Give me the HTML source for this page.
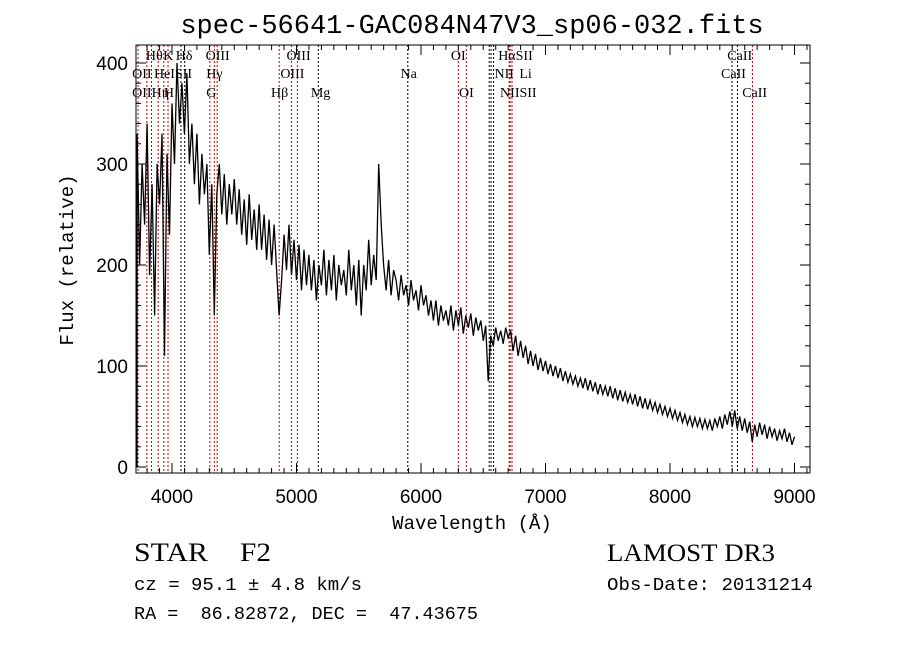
<!DOCTYPE html>
<html><head><meta charset="utf-8"><style>
html,body{margin:0;padding:0;background:#fff;}
svg{display:block;}
text{white-space:pre;}
</style></head><body>
<svg id="chart" width="900" height="649" viewBox="0 0 900 649" xmlns="http://www.w3.org/2000/svg">
<rect width="900" height="649" fill="#fff"/>
<text x="472" y="33" text-anchor="middle" font-family="Liberation Mono, monospace" font-size="27" fill="#000">spec-56641-GAC084N47V3_sp06-032.fits</text>
<g id="lines"></g>
<g id="spec"></g>
<g id="axes"></g>
<text x="472" y="529" text-anchor="middle" font-family="Liberation Mono, monospace" font-size="19">Wavelength (Å)</text>
<text transform="translate(73,260) rotate(-90)" text-anchor="middle" font-family="Liberation Mono, monospace" font-size="19">Flux (relative)</text>
<text x="134" y="561" font-family="Liberation Serif, serif" font-size="26" textLength="74" lengthAdjust="spacingAndGlyphs">STAR</text>
<text x="240" y="561" font-family="Liberation Serif, serif" font-size="26" textLength="31" lengthAdjust="spacingAndGlyphs">F2</text>
<text x="134" y="590" font-family="Liberation Mono, monospace" font-size="18" textLength="228" lengthAdjust="spacingAndGlyphs">cz&#160;=&#160;95.1&#160;±&#160;4.8&#160;km/s</text>
<text x="134" y="619" font-family="Liberation Mono, monospace" font-size="18" textLength="344" lengthAdjust="spacingAndGlyphs">RA&#160;=&#160;&#160;86.82872,&#160;DEC&#160;=&#160;&#160;47.43675</text>
<text x="607" y="561" font-family="Liberation Serif, serif" font-size="25" textLength="168" lengthAdjust="spacingAndGlyphs">LAMOST&#160;DR3</text>
<text x="607" y="590" font-family="Liberation Mono, monospace" font-size="18" textLength="206" lengthAdjust="spacingAndGlyphs">Obs-Date:&#160;20131214</text>
</svg>
<script>
const wlStart = 3700;
const wlStep = 20;
const flux = [0,330,200,300,240,340,190,280,150,300,
260,330,110,310,230,360,300,400,340,380,
330,390,300,340,280,330,260,310,270,300,
210,280,150,270,300,250,290,240,280,250,
285,240,275,230,265,220,270,225,255,215,
260,215,250,205,245,200,240,195,150,185,
230,195,240,190,225,185,220,175,215,180,
210,175,205,165,200,180,215,170,205,175,
210,165,200,180,195,170,215,175,200,160,
205,150,200,175,225,180,210,185,300,240,
200,175,205,170,195,185,165,190,170,180,
160,185,165,175,155,180,160,170,150,165,
145,165,140,160,145,155,140,160,135,155,
140,158,132,150,138,152,130,148,135,145,
125,140,85,130,120,138,125,135,122,138,
128,135,115,130,110,125,108,120,102,115,
100,112,96,108,95,105,92,102,90,100,
88,98,85,95,84,92,82,90,80,88,
78,88,76,86,75,84,72,82,72,80,
70,80,68,78,66,76,65,74,64,72,
62,72,60,70,58,68,57,66,56,64,
54,62,52,60,50,58,48,56,46,54,
44,52,42,50,40,49,40,48,38,47,
38,46,36,48,40,50,38,52,42,55,
40,56,38,50,36,48,34,45,25,42,
30,44,32,42,28,40,30,38,26,36,
28,38,25,34,22,30];
const lineWl = [3727,3798,3835,3889,3934,3968,4072,4102,4304,4340,4363,4861,4959,5007,5175,5894,6300,6364,6548,6563,6583,6708,6716,6731,8498,8542,8662];
const lineRed = [1,1,1,1,1,1,0,0,1,1,1,1,1,1,0,0,1,1,0,0,0,1,1,1,0,0,1];
const labelText = ["Hθ","K","Hδ","OIII","OIII","OI","HαSII","CaII","OII","HeISII","Hγ","OIII","Na","NII","Li","CaII","OIIHη","H","G","Hβ","Mg","OI","NIISII","CaII"];
const labelWl = [3790,3930,4030,4270,4920,6240,6620,8460,3680,3855,4275,4870,5835,6590,6790,8410,3680,3935,4275,4795,5115,6305,6635,8580];
const labelRow = [0,0,0,0,0,0,0,0,1,1,1,1,1,1,1,1,2,2,2,2,2,2,2,2];
const xTicks = [4000,5000,6000,7000,8000,9000];
const yTicks = [0,100,200,300,400];

const NS="http://www.w3.org/2000/svg";
const L=136,R=810,T=45,B=473;
function X(w){return 172+(w-4000)*0.1245;}
function Y(f){return 467-f*1.01;}
function mk(tag,attrs,parent){const e=document.createElementNS(NS,tag);for(const k in attrs)e.setAttribute(k,attrs[k]);parent.appendChild(e);return e;}

const gl=document.getElementById('lines');
lineWl.forEach((w,i)=>{
  const l=mk('line',{x1:X(w),x2:X(w),y1:T,y2:B,stroke:lineRed[i]?'#c00000':'#000','stroke-width':1,'stroke-dasharray':'2,2'},gl);
  
  
});
const rowY=[60,78,97];
labelText.forEach((t,i)=>{
  const e=mk('text',{x:X(labelWl[i]),y:rowY[labelRow[i]],'font-family':'Liberation Serif, serif','font-size':14},gl);
  e.textContent=t;
  
  
});

const gs=document.getElementById('spec');
let d='';
flux.forEach((f,i)=>{const w=wlStart+i*wlStep;const x=Math.max(X(w),L+1);d+=(i?'L':'M')+x.toFixed(1)+','+Y(f).toFixed(1);});
const p=mk('path',{d:d,fill:'none',stroke:'#000','stroke-width':1.3},gs);



const ga=document.getElementById('axes');
const fr=mk('rect',{x:L,y:T,width:R-L,height:B-T,fill:'none',stroke:'#000','stroke-width':1},ga);


for(let w=3800;w<=9100;w+=100){
  const major=w%1000===0;const len=major?10:5;
  mk('line',{x1:X(w),x2:X(w),y1:B,y2:B-len,stroke:'#000'},ga);
  mk('line',{x1:X(w),x2:X(w),y1:T,y2:T+len,stroke:'#000'},ga);
}
for(let f=0;f<=410;f+=20){
  const major=f%100===0;const len=major?10:5;
  mk('line',{x1:L,x2:L+len,y1:Y(f),y2:Y(f),stroke:'#000'},ga);
  mk('line',{x1:R,x2:R-len,y1:Y(f),y2:Y(f),stroke:'#000'},ga);
}
xTicks.forEach(w=>{
  const t=mk('text',{x:X(w),y:503,'text-anchor':'middle','font-family':'Liberation Sans, sans-serif','font-size':19},ga);
  t.textContent=w;
  
  
});
yTicks.forEach(f=>{
  const t=mk('text',{x:128,y:Y(f)+7,'text-anchor':'end','font-family':'Liberation Sans, sans-serif','font-size':19},ga);
  t.textContent=f;
  
  
});
</script>
</body></html>
